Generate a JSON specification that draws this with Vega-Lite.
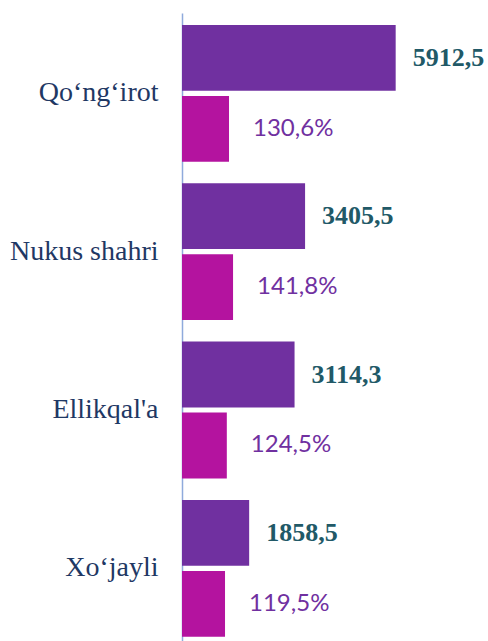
{
  "$schema": "https://vega.github.io/schema/vega-lite/v6.json",
  "width": 306,
  "height": 628,
  "autosize": "none",
  "padding": {"left": 182, "top": 13, "right": 0, "bottom": 0},
  "background": "white",
  "config": {"view": {"stroke": null}},
  "data": {
    "values": [
      {"region": "Qo‘ng‘irot", "series": "value", "num": 5912.5, "label": "5912,5"},
      {"region": "Qo‘ng‘irot", "series": "pct", "num": 130.6, "label": "130,6%"},
      {"region": "Nukus shahri", "series": "value", "num": 3405.5, "label": "3405,5"},
      {"region": "Nukus shahri", "series": "pct", "num": 141.8, "label": "141,8%"},
      {"region": "Ellikqal'a", "series": "value", "num": 3114.3, "label": "3114,3"},
      {"region": "Ellikqal'a", "series": "pct", "num": 124.5, "label": "124,5%"},
      {"region": "Xo‘jayli", "series": "value", "num": 1858.5, "label": "1858,5"},
      {"region": "Xo‘jayli", "series": "pct", "num": 119.5, "label": "119,5%"}
    ]
  },
  "encoding": {
    "y": {
      "field": "region",
      "type": "nominal",
      "sort": null,
      "scale": {"paddingInner": 0.136, "paddingOuter": 0.0515, "align": 0.736},
      "axis": {
        "title": null,
        "ticks": false,
        "grid": false,
        "domainColor": "#8FAADC",
        "domainWidth": 1.5,
        "labelFont": "Liberation Serif",
        "labelFontSize": 28,
        "labelColor": "#1F3864",
        "labelPadding": 24,
        "labelBaseline": "middle"
      }
    },
    "yOffset": {
      "field": "series",
      "type": "nominal",
      "scale": {"domain": ["value", "pct"], "paddingInner": 0.073, "paddingOuter": 0}
    }
  },
  "layer": [
    {
      "transform": [{"filter": "datum.series === 'value'"}],
      "encoding": {
        "x": {"field": "num", "type": "quantitative", "scale": {"domain": [0, 8467], "nice": false}, "axis": null}
      },
      "layer": [
        {"mark": {"type": "bar", "color": "#7030A0"}},
        {
          "mark": {"type": "text", "align": "left", "baseline": "middle", "dx": 17, "font": "Liberation Serif", "fontWeight": "bold", "fontSize": 26, "color": "#215967"},
          "encoding": {"text": {"field": "label"}}
        }
      ]
    },
    {
      "transform": [{"filter": "datum.series === 'pct'"}],
      "encoding": {
        "x": {"field": "num", "type": "quantitative", "scale": {"domain": [0, 850], "nice": false}, "axis": null}
      },
      "layer": [
        {"mark": {"type": "bar", "color": "#B4139F"}},
        {
          "mark": {"type": "text", "align": "left", "baseline": "middle", "dx": 24, "font": "Lato", "fontSize": 24, "color": "#7030A0"},
          "encoding": {"text": {"field": "label"}}
        }
      ]
    }
  ],
  "resolve": {"scale": {"x": "independent"}}
}
